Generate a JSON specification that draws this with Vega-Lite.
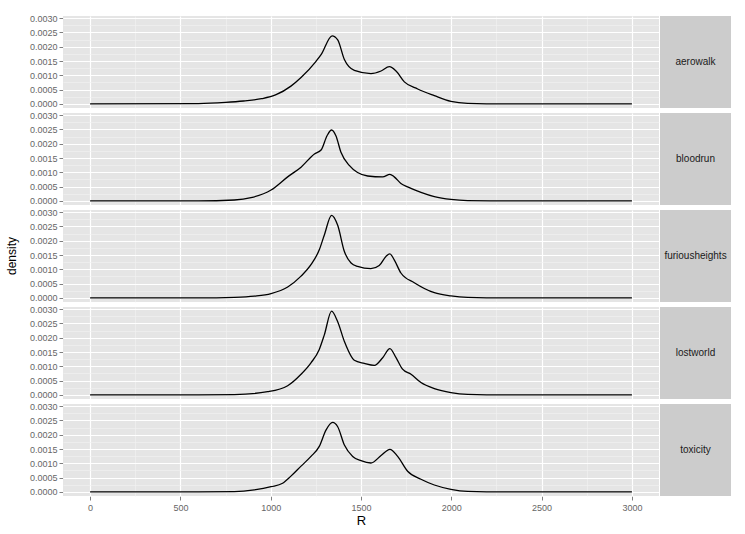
{
  "$schema": "https://vega.github.io/schema/vega-lite/v6.json",
  "padding": {"left": 5, "top": 14, "right": 5, "bottom": 5},
  "background": "white",
  "config": {
    "font": "Liberation Sans",
    "view": {"stroke": null}
  },
  "datasets": {
    "dens": [
      {"map": "aerowalk", "R": 0, "density": 0},
      {"map": "aerowalk", "R": 600, "density": 0.00001},
      {"map": "aerowalk", "R": 750, "density": 0.00005},
      {"map": "aerowalk", "R": 850, "density": 0.0001},
      {"map": "aerowalk", "R": 950, "density": 0.00018},
      {"map": "aerowalk", "R": 1030, "density": 0.00032},
      {"map": "aerowalk", "R": 1112, "density": 0.00062},
      {"map": "aerowalk", "R": 1168, "density": 0.00092},
      {"map": "aerowalk", "R": 1251, "density": 0.00149},
      {"map": "aerowalk", "R": 1279, "density": 0.00172},
      {"map": "aerowalk", "R": 1340, "density": 0.00238},
      {"map": "aerowalk", "R": 1371, "density": 0.00224},
      {"map": "aerowalk", "R": 1408, "density": 0.00155},
      {"map": "aerowalk", "R": 1463, "density": 0.00117},
      {"map": "aerowalk", "R": 1555, "density": 0.00106},
      {"map": "aerowalk", "R": 1611, "density": 0.00115},
      {"map": "aerowalk", "R": 1657, "density": 0.0013},
      {"map": "aerowalk", "R": 1694, "density": 0.00115},
      {"map": "aerowalk", "R": 1740, "density": 0.00077},
      {"map": "aerowalk", "R": 1814, "density": 0.00052},
      {"map": "aerowalk", "R": 1906, "density": 0.00029},
      {"map": "aerowalk", "R": 1998, "density": 0.00009},
      {"map": "aerowalk", "R": 2090, "density": 0.00002},
      {"map": "aerowalk", "R": 2300, "density": 0},
      {"map": "aerowalk", "R": 3000, "density": 0},

      {"map": "bloodrun", "R": 0, "density": 0},
      {"map": "bloodrun", "R": 600, "density": 0},
      {"map": "bloodrun", "R": 799, "density": 0.00003},
      {"map": "bloodrun", "R": 891, "density": 0.00011},
      {"map": "bloodrun", "R": 1002, "density": 0.00038},
      {"map": "bloodrun", "R": 1094, "density": 0.00084},
      {"map": "bloodrun", "R": 1168, "density": 0.00118},
      {"map": "bloodrun", "R": 1242, "density": 0.00164},
      {"map": "bloodrun", "R": 1279, "density": 0.00178},
      {"map": "bloodrun", "R": 1312, "density": 0.00228},
      {"map": "bloodrun", "R": 1337, "density": 0.00248},
      {"map": "bloodrun", "R": 1361, "density": 0.00228},
      {"map": "bloodrun", "R": 1389, "density": 0.0017},
      {"map": "bloodrun", "R": 1435, "density": 0.00124},
      {"map": "bloodrun", "R": 1481, "density": 0.00099},
      {"map": "bloodrun", "R": 1537, "density": 0.00087},
      {"map": "bloodrun", "R": 1620, "density": 0.00084},
      {"map": "bloodrun", "R": 1660, "density": 0.00093},
      {"map": "bloodrun", "R": 1684, "density": 0.00084},
      {"map": "bloodrun", "R": 1721, "density": 0.00061},
      {"map": "bloodrun", "R": 1758, "density": 0.00049},
      {"map": "bloodrun", "R": 1832, "density": 0.0003},
      {"map": "bloodrun", "R": 1906, "density": 0.00015},
      {"map": "bloodrun", "R": 1998, "density": 0.00005},
      {"map": "bloodrun", "R": 2090, "density": 0.00001},
      {"map": "bloodrun", "R": 2300, "density": 0},
      {"map": "bloodrun", "R": 3000, "density": 0},

      {"map": "furiousheights", "R": 0, "density": 0},
      {"map": "furiousheights", "R": 600, "density": 0},
      {"map": "furiousheights", "R": 799, "density": 0.00002},
      {"map": "furiousheights", "R": 909, "density": 0.00006},
      {"map": "furiousheights", "R": 1002, "density": 0.00015},
      {"map": "furiousheights", "R": 1094, "density": 0.00038},
      {"map": "furiousheights", "R": 1168, "density": 0.00076},
      {"map": "furiousheights", "R": 1223, "density": 0.00116},
      {"map": "furiousheights", "R": 1269, "density": 0.00168},
      {"map": "furiousheights", "R": 1297, "density": 0.0022},
      {"map": "furiousheights", "R": 1337, "density": 0.00289},
      {"map": "furiousheights", "R": 1371, "density": 0.00254},
      {"map": "furiousheights", "R": 1408, "density": 0.00162},
      {"map": "furiousheights", "R": 1445, "density": 0.00122},
      {"map": "furiousheights", "R": 1481, "density": 0.0011},
      {"map": "furiousheights", "R": 1555, "density": 0.00102},
      {"map": "furiousheights", "R": 1601, "density": 0.00113},
      {"map": "furiousheights", "R": 1638, "density": 0.00145},
      {"map": "furiousheights", "R": 1660, "density": 0.00154},
      {"map": "furiousheights", "R": 1684, "density": 0.00133},
      {"map": "furiousheights", "R": 1721, "density": 0.00087},
      {"map": "furiousheights", "R": 1795, "density": 0.00053},
      {"map": "furiousheights", "R": 1906, "density": 0.00018},
      {"map": "furiousheights", "R": 1998, "density": 0.00007},
      {"map": "furiousheights", "R": 2090, "density": 0.00002},
      {"map": "furiousheights", "R": 2300, "density": 0},
      {"map": "furiousheights", "R": 3000, "density": 0},

      {"map": "lostworld", "R": 0, "density": 0},
      {"map": "lostworld", "R": 600, "density": 0},
      {"map": "lostworld", "R": 799, "density": 0.00001},
      {"map": "lostworld", "R": 983, "density": 0.00011},
      {"map": "lostworld", "R": 1094, "density": 0.00032},
      {"map": "lostworld", "R": 1168, "density": 0.00072},
      {"map": "lostworld", "R": 1223, "density": 0.00112},
      {"map": "lostworld", "R": 1269, "density": 0.00159},
      {"map": "lostworld", "R": 1297, "density": 0.0021},
      {"map": "lostworld", "R": 1337, "density": 0.00293},
      {"map": "lostworld", "R": 1371, "density": 0.00256},
      {"map": "lostworld", "R": 1408, "density": 0.00187},
      {"map": "lostworld", "R": 1463, "density": 0.00121},
      {"map": "lostworld", "R": 1518, "density": 0.0011},
      {"map": "lostworld", "R": 1574, "density": 0.00103},
      {"map": "lostworld", "R": 1620, "density": 0.0013},
      {"map": "lostworld", "R": 1660, "density": 0.00162},
      {"map": "lostworld", "R": 1694, "density": 0.0013},
      {"map": "lostworld", "R": 1730, "density": 0.0009},
      {"map": "lostworld", "R": 1777, "density": 0.00072},
      {"map": "lostworld", "R": 1832, "density": 0.00043},
      {"map": "lostworld", "R": 1906, "density": 0.00022},
      {"map": "lostworld", "R": 1998, "density": 0.00008},
      {"map": "lostworld", "R": 2090, "density": 0.00002},
      {"map": "lostworld", "R": 2300, "density": 0},
      {"map": "lostworld", "R": 3000, "density": 0},

      {"map": "toxicity", "R": 0, "density": 0},
      {"map": "toxicity", "R": 600, "density": 0},
      {"map": "toxicity", "R": 799, "density": 0.00001},
      {"map": "toxicity", "R": 909, "density": 0.00007},
      {"map": "toxicity", "R": 1002, "density": 0.00018},
      {"map": "toxicity", "R": 1066, "density": 0.0003},
      {"map": "toxicity", "R": 1112, "density": 0.00055},
      {"map": "toxicity", "R": 1168, "density": 0.0009},
      {"map": "toxicity", "R": 1223, "density": 0.00124},
      {"map": "toxicity", "R": 1269, "density": 0.00159},
      {"map": "toxicity", "R": 1306, "density": 0.00216},
      {"map": "toxicity", "R": 1343, "density": 0.00243},
      {"map": "toxicity", "R": 1371, "density": 0.00228},
      {"map": "toxicity", "R": 1408, "density": 0.00164},
      {"map": "toxicity", "R": 1454, "density": 0.00124},
      {"map": "toxicity", "R": 1500, "density": 0.00109},
      {"map": "toxicity", "R": 1555, "density": 0.00101},
      {"map": "toxicity", "R": 1611, "density": 0.00127},
      {"map": "toxicity", "R": 1660, "density": 0.00149},
      {"map": "toxicity", "R": 1703, "density": 0.00124},
      {"map": "toxicity", "R": 1758, "density": 0.00072},
      {"map": "toxicity", "R": 1832, "density": 0.00044},
      {"map": "toxicity", "R": 1906, "density": 0.00024},
      {"map": "toxicity", "R": 1998, "density": 0.00009},
      {"map": "toxicity", "R": 2090, "density": 0.00002},
      {"map": "toxicity", "R": 2300, "density": 0},
      {"map": "toxicity", "R": 3000, "density": 0}
    ],
    "strips": [
      {"map": "aerowalk"},
      {"map": "bloodrun"},
      {"map": "furiousheights"},
      {"map": "lostworld"},
      {"map": "toxicity"}
    ]
  },
  "hconcat": [
    {
      "data": {"name": "dens"},
      "facet": {
        "row": {
          "field": "map",
          "type": "nominal",
          "header": {
            "title": "density",
            "labels": false,
            "titleFontSize": 12,
            "titleFontWeight": "normal",
            "titleColor": "black",
            "titlePadding": 0,
            "titleFont": "Liberation Sans"
          }
        }
      },
      "spacing": 5,
      "spec": {
        "width": 596,
        "height": 92,
        "view": {"fill": "#E5E5E5", "stroke": null},
        "mark": {"type": "line", "color": "black", "strokeWidth": 1.3, "interpolate": "monotone"},
        "encoding": {
          "x": {
            "field": "R",
            "type": "quantitative",
            "scale": {"domain": [-150, 3150], "nice": false, "zero": false},
            "axis": {
              "title": "R",
              "titleFontSize": 13,
              "titleFontWeight": "normal",
              "titleColor": "black",
              "titlePadding": 2,
              "values": [0, 250, 500, 750, 1000, 1250, 1500, 1750, 2000, 2250, 2500, 2750, 3000],
              "format": "d",
              "labelExpr": "datum.value % 500 === 0 ? datum.label : ''",
              "labelFontSize": 9,
              "labelColor": "#666666",
              "labelPadding": 3,
              "domain": false,
              "tickSize": 4,
              "tickColor": "#7f7f7f",
              "tickOpacity": {"condition": {"test": "datum.value % 500 === 0", "value": 1}, "value": 0},
              "gridColor": {"condition": {"test": "datum.value % 500 === 0", "value": "#FFFFFF"}, "value": "#F2F2F2"},
              "gridWidth": {"condition": {"test": "datum.value % 500 === 0", "value": 1.2}, "value": 0.6},
              "gridOpacity": 1
            }
          },
          "y": {
            "field": "density",
            "type": "quantitative",
            "scale": {"domain": [-0.000145, 0.003075], "nice": false, "zero": false},
            "axis": {
              "title": null,
              "values": [0, 0.00025, 0.0005, 0.00075, 0.001, 0.00125, 0.0015, 0.00175, 0.002, 0.00225, 0.0025, 0.00275, 0.003],
              "format": ".4f",
              "labelExpr": "round(datum.value * 4000) % 2 === 0 ? datum.label : ''",
              "labelFontSize": 9,
              "labelColor": "#666666",
              "labelPadding": 2,
              "domain": false,
              "tickSize": 4,
              "tickColor": "#7f7f7f",
              "tickOpacity": {"condition": {"test": "round(datum.value * 4000) % 2 === 0", "value": 1}, "value": 0},
              "gridColor": {"condition": {"test": "round(datum.value * 4000) % 2 === 0", "value": "#FFFFFF"}, "value": "#F2F2F2"},
              "gridWidth": {"condition": {"test": "round(datum.value * 4000) % 2 === 0", "value": 1.2}, "value": 0.6},
              "gridOpacity": 1
            }
          }
        }
      }
    },
    {
      "data": {"name": "strips"},
      "facet": {
        "row": {"field": "map", "type": "nominal", "header": {"labels": false, "title": null}}
      },
      "spacing": 5,
      "spec": {
        "width": 71,
        "height": 92,
        "view": {"fill": "#CCCCCC", "stroke": null},
        "mark": {"type": "text", "fontSize": 10, "color": "#1a1a1a", "font": "Liberation Sans"},
        "encoding": {"text": {"field": "map", "type": "nominal"}}
      }
    }
  ],
  "spacing": 1
}
